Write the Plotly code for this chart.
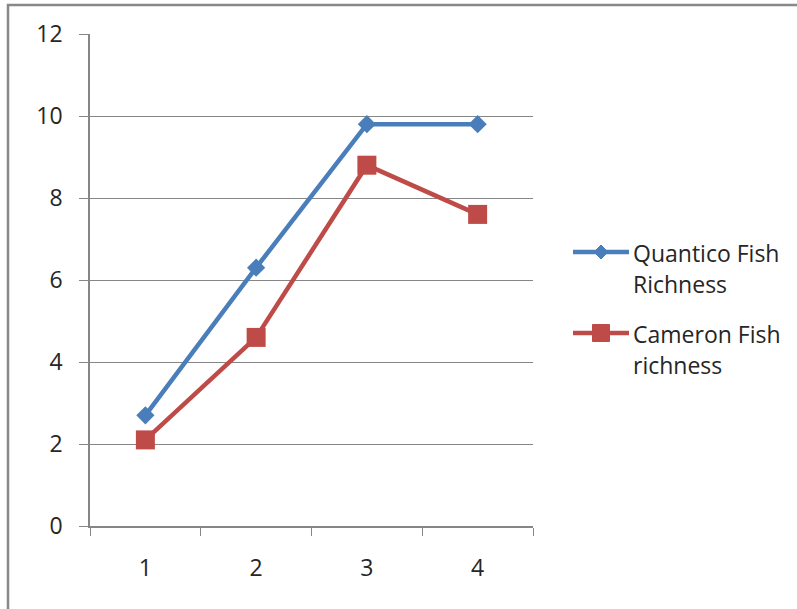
import plotly.graph_objects as go

# Fish richness by sampling period
periods = ["1", "2", "3", "4"]
quantico = [2.7, 6.3, 9.8, 9.8]
cameron = [2.1, 4.6, 8.8, 7.6]
y_ticks = [0, 2, 4, 6, 8, 10, 12]
series_names = [["Quantico Fish", "Richness"], ["Cameron Fish", "richness"]]

blue = "#4A7EBB"
red = "#BE4B48"
grid = "#868686"
text_color = "#262626"
font_family = "Open Sans, Liberation Sans, sans-serif"

# Plot area in pixels (figure is 797 x 609)
L, R, T, B = 90, 533, 34, 526


def px_x(p):
    return (p - L) / (R - L)


def px_y(p):
    return (B - p) / (B - T)


fig = go.Figure()
fig.add_trace(go.Scatter(
    x=periods, y=quantico, mode="lines+markers",
    name=" ".join(series_names[0]), showlegend=False,
    line=dict(color=blue, width=4.5),
    marker=dict(symbol="diamond", size=14, color=blue),
))
fig.add_trace(go.Scatter(
    x=periods, y=cameron, mode="lines+markers",
    name=" ".join(series_names[1]), showlegend=False,
    line=dict(color=red, width=4.5),
    marker=dict(symbol="square", size=19, color=red),
))

# Chart border (top and left edges visible inside the window)
fig.add_shape(type="rect", xref="paper", yref="paper",
              x0=px_x(8), x1=px_x(900), y0=px_y(700), y1=px_y(5),
              line=dict(color="#888888", width=2.5), layer="below")

# Legend: line sample, marker, two-line label per series
legend_rows = [(252, blue, "diamond"), (333, red, "square")]
for (row_y, color, sym), words in zip(legend_rows, series_names):
    fig.add_shape(type="line", xref="paper", yref="paper",
                  x0=px_x(573), x1=px_x(629), y0=px_y(row_y), y1=px_y(row_y),
                  line=dict(color=color, width=4.5))
    cx, cy = 601, row_y
    if sym == "diamond":
        h = 7
        path = (f"M {px_x(cx)} {px_y(cy - h)} L {px_x(cx + h)} {px_y(cy)} "
                f"L {px_x(cx)} {px_y(cy + h)} L {px_x(cx - h)} {px_y(cy)} Z")
        fig.add_shape(type="path", xref="paper", yref="paper", path=path,
                      fillcolor=color, line=dict(color=color, width=1))
    else:
        h = 8.5
        fig.add_shape(type="rect", xref="paper", yref="paper",
                      x0=px_x(cx - h), x1=px_x(cx + h),
                      y0=px_y(cy + h), y1=px_y(cy - h),
                      fillcolor=color, line=dict(color=color, width=1))
    for i, word in enumerate(words):
        fig.add_annotation(xref="paper", yref="paper",
                           x=px_x(631), y=px_y(row_y + 1 + 31 * i),
                           xanchor="left", yanchor="middle", showarrow=False,
                           text=word, font=dict(size=23, color=text_color))

fig.update_layout(
    width=797, height=609,
    margin=dict(l=L, r=797 - R, t=T, b=609 - B),
    paper_bgcolor="white", plot_bgcolor="white",
    font=dict(family=font_family, size=23, color=text_color),
    showlegend=False,
    xaxis=dict(type="category", range=[-0.5, 3.5], tickson="boundaries",
               ticks="outside", ticklen=8, tickcolor=grid, showline=True,
               linecolor=grid, linewidth=1.5, showgrid=False,
               ticklabelstandoff=21),
    yaxis=dict(range=[0, 12], tickvals=y_ticks, ticks="outside",
               ticklen=9, tickcolor=grid, showline=True, linecolor=grid,
               linewidth=1.5, showgrid=True, gridcolor=grid, gridwidth=1,
               zeroline=False, ticklabelstandoff=12),
)

fig.write_html("out.html")
